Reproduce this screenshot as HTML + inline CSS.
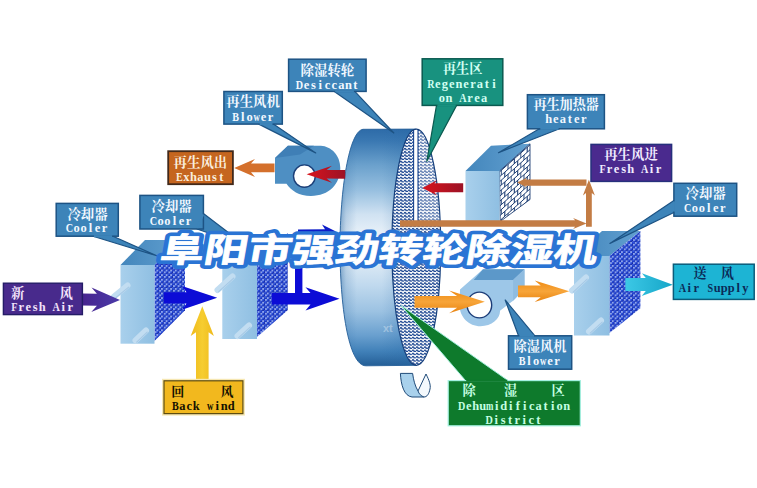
<!DOCTYPE html>
<html lang="zh"><head><meta charset="utf-8"><title>阜阳市强劲转轮除湿机</title>
<style>
html,body{margin:0;padding:0;background:#fff}
body{width:757px;height:488px;overflow:hidden;font-family:"Liberation Serif",serif}
svg{display:block}
text{font-family:"Liberation Serif",serif}
text.cj{font-family:"Liberation Serif","Noto Serif CJK SC",serif;font-weight:bold}
text.ct{font-family:"Liberation Sans","Noto Sans CJK SC",sans-serif;font-weight:bold}
</style></head><body>
<svg width="757" height="488" viewBox="0 0 757 488">
<defs>
<linearGradient id="gFront" x1="0" x2="1" y1="0" y2="0"><stop offset="0" stop-color="#a9d0ec"/><stop offset="1" stop-color="#8fbfe2"/></linearGradient>
<linearGradient id="gRimV" x1="0" x2="0" y1="0" y2="1"><stop offset="0" stop-color="#2d6ba8"/><stop offset=".05" stop-color="#3a78b2"/><stop offset=".15" stop-color="#6aa0cc"/><stop offset=".26" stop-color="#98c0e0"/><stop offset=".36" stop-color="#d0e2f2"/><stop offset=".45" stop-color="#eaf2f9"/><stop offset=".55" stop-color="#e0ecf6"/><stop offset=".66" stop-color="#c0d9ee"/><stop offset=".77" stop-color="#9cc2e2"/><stop offset=".87" stop-color="#6aa0cf"/><stop offset=".94" stop-color="#4080b8"/><stop offset="1" stop-color="#245e96"/></linearGradient>
<linearGradient id="gRimH" x1="0" x2="1" y1="0" y2="0"><stop offset="0" stop-color="#2c69a3" stop-opacity=".5"/><stop offset=".08" stop-color="#2c69a3" stop-opacity=".18"/><stop offset=".22" stop-color="#2c69a3" stop-opacity="0"/><stop offset=".55" stop-color="#2a6aa8" stop-opacity="0"/><stop offset="1" stop-color="#2a6aa8" stop-opacity=".36"/></linearGradient>
<linearGradient id="gTop" x1="0" x2="1"><stop offset="0" stop-color="#4386bc"/><stop offset="1" stop-color="#62a0d0"/></linearGradient>
<linearGradient id="gPurple" x1="0" x2="1"><stop offset="0" stop-color="#47258f"/><stop offset="1" stop-color="#4a3aa8"/></linearGradient>
<linearGradient id="gYellow" x1="0" x2="1"><stop offset="0" stop-color="#efba1c"/><stop offset=".5" stop-color="#f6cd30"/><stop offset="1" stop-color="#efba1c"/></linearGradient>
<linearGradient id="gOrange" x1="0" x2="0" y1="0" y2="1"><stop offset="0" stop-color="#ef8a12"/><stop offset=".5" stop-color="#f7a53a"/><stop offset="1" stop-color="#e8820e"/></linearGradient>
<linearGradient id="gRed" x1="0" x2="1"><stop offset="0" stop-color="#d8141c"/><stop offset="1" stop-color="#9c1226"/></linearGradient>
<linearGradient id="gCyan" x1="0" x2="1"><stop offset="0" stop-color="#3cc8e6"/><stop offset="1" stop-color="#16a6c8"/></linearGradient>
<radialGradient id="gDot" cx=".36" cy=".36" r=".7"><stop offset="0" stop-color="#3f6af0"/><stop offset=".45" stop-color="#1c3ccc"/><stop offset="1" stop-color="#0a1788"/></radialGradient><pattern id="pMesh" width="4.6" height="4.6" patternUnits="userSpaceOnUse"><rect width="4.6" height="4.6" fill="#8ea4ec"/><circle cx="1.15" cy="1.15" r="1.66" fill="url(#gDot)"/><circle cx="3.45" cy="3.45" r="1.66" fill="url(#gDot)"/></pattern>
<pattern id="pBrick" width="6.4" height="9.8" patternUnits="userSpaceOnUse" patternTransform="translate(500 171) skewY(-41.6)"><rect width="6.4" height="9.8" fill="#fff"/><path d="M0 .5H6.4M0 5.4H6.4M1.6 .5V5.4M4.8 5.4V10.3M4.8 0V.5" stroke="#1f3f74" stroke-width="1" fill="none"/></pattern>
<pattern id="pWave" width="4" height="3.2" patternUnits="userSpaceOnUse"><rect width="4" height="3.2" fill="#fff"/><path d="M0 2.2Q1 .2 2 2.2T4 2.2" stroke="#16428e" stroke-width="1.35" fill="none"/></pattern>

</defs>
<polygon points="120.5,265 145,240 185,240 154.5,265" fill="url(#gTop)"/>
<polygon points="154.5,265 185,236 185,310.3 154.5,341" fill="url(#pMesh)"/>
<rect x="120.5" y="265" width="34" height="78.7" fill="url(#gFront)"/>
<line x1="114" y1="296.5" x2="127.5" y2="285.5" stroke="#c2ddf1" stroke-width="6" stroke-linecap="round"/>
<line x1="115.2" y1="298.1" x2="128.7" y2="287.1" stroke="#a6c9e6" stroke-width="1.2" stroke-linecap="round"/>
<line x1="135.5" y1="340.5" x2="146" y2="330.5" stroke="#c2ddf1" stroke-width="6" stroke-linecap="round"/>
<line x1="136.7" y1="342.1" x2="147.2" y2="332.1" stroke="#a6c9e6" stroke-width="1.2" stroke-linecap="round"/>
<polygon points="222.3,262 248,238 287.7,238 257,262" fill="url(#gTop)"/>
<polygon points="257,262 287.7,233 287.7,310.3 257,337" fill="url(#pMesh)"/>
<rect x="222.3" y="262" width="34.7" height="77" fill="url(#gFront)"/>
<line x1="217.5" y1="290" x2="232.5" y2="276.5" stroke="#c2ddf1" stroke-width="6" stroke-linecap="round"/>
<line x1="218.7" y1="291.6" x2="233.7" y2="278.1" stroke="#a6c9e6" stroke-width="1.2" stroke-linecap="round"/>
<line x1="237.5" y1="336" x2="249" y2="325.5" stroke="#c2ddf1" stroke-width="6" stroke-linecap="round"/>
<line x1="238.7" y1="337.6" x2="250.2" y2="327.1" stroke="#a6c9e6" stroke-width="1.2" stroke-linecap="round"/>
<polygon points="574,256 602,231 640.4,231 609.5,256" fill="url(#gTop)"/>
<polygon points="609.5,256 640.4,231 640.4,308.3 609.5,333" fill="url(#pMesh)"/>
<rect x="574" y="256" width="35.5" height="79.5" fill="url(#gFront)"/>
<line x1="572" y1="290.5" x2="586" y2="277.5" stroke="#c2ddf1" stroke-width="6" stroke-linecap="round"/>
<line x1="573.2" y1="292.1" x2="587.2" y2="279.1" stroke="#a6c9e6" stroke-width="1.2" stroke-linecap="round"/>
<line x1="589" y1="331.5" x2="601" y2="320.5" stroke="#c2ddf1" stroke-width="6" stroke-linecap="round"/>
<line x1="590.2" y1="333.1" x2="602.2" y2="322.1" stroke="#a6c9e6" stroke-width="1.2" stroke-linecap="round"/>
<polygon points="465.5,171 491,145.7 530,143.8 499.6,171" fill="url(#gTop)"/>
<polygon points="499.6,171 530,143.8 530,199.5 500.2,221.5" fill="url(#pBrick)" stroke="#1f3f74" stroke-width="0.9"/>
<rect x="465.5" y="171" width="34.1" height="50" fill="url(#gFront)"/>
<path d="M416.3 129.1L363 129.3C349 131 340 190 340 247C340 304 348 365.8 366 365.8L416.3 365.3Z" fill="url(#gRimV)"/>
<path d="M416.3 129.1L363 129.3C349 131 340 190 340 247C340 304 348 365.8 366 365.8L416.3 365.3Z" fill="url(#gRimH)" stroke="#255f98" stroke-width=".9"/>
<path id="face" d="M416.3 129.1A24.4 118.1 0 1 1 416.3 365.29999999999995A24.4 118.1 0 1 1 416.3 129.1Z" fill="url(#pWave)"/>
<clipPath id="cFace"><path d="M416.3 129.1A24.4 118.1 0 1 1 416.3 365.29999999999995A24.4 118.1 0 1 1 416.3 129.1Z"/></clipPath>
<g clip-path="url(#cFace)"><rect x="418.8" y="125" width="24" height="100" fill="#fff" opacity=".28"/><rect x="413.6" y="125" width="4.4" height="98" fill="#fff" stroke="#16428e" stroke-width="1.1"/></g>
<path d="M416.3 129.1A24.4 118.1 0 1 1 416.3 365.29999999999995A24.4 118.1 0 1 1 416.3 129.1Z" fill="none" stroke="#17407c" stroke-width="1.2"/>
<text x="383" y="332" fill="#fff" opacity=".32" font-size="11" font-weight="bold" style="font-family:&quot;Liberation Sans&quot;,sans-serif">xt</text>
<path d="M400.4 373.4H412.6C413.5 380 415 386 418 391L424 397H412C404 396 401 385 400.4 373.4Z" fill="#a9d1ec" stroke="#1f4a78" stroke-width="1" stroke-linejoin="round"/>
<path d="M418 391L426 374C429 380 431 385 430 389C429 394 427 397 424 397C421 396 419 394 418 391Z" fill="#f4f9fd" stroke="#1f4a78" stroke-width="1" stroke-linejoin="round"/>
<path d="M275 157.9L287.9 145.8H320.9C331 146.5 340.3 155 340.3 168C340.3 184 329 195.9 311 195.9C299 195.9 291 190.5 286.5 183.7H275Z" fill="#4e8fc3"/>
<path d="M275 157.9L287.9 145.8H314L300 154.5Z" fill="#3f7fb6"/>
<ellipse cx="304.4" cy="176.1" rx="10.9" ry="11.2" fill="#fff" stroke="#1b3f78" stroke-width="1.4"/>
<path d="M460 289.5L483 269.2H524.5V289L513.1 300.7L500 310.7C500.5 318.5 492 326.3 480.5 326.3C469 326.3 459.5 317 459.5 305Z" fill="#9dc7e8"/>
<path d="M473.7 279.9L483 269.2H524.5L513.1 279.9Z" fill="#5c98c9"/>
<path d="M513.1 279.9L524.5 269.2V289L513.1 300.7Z" fill="#8fbce0"/>
<ellipse cx="479.4" cy="305" rx="12.3" ry="12.9" fill="#fff" stroke="#1b3c78" stroke-width="1.4"/>
<polygon points="82.5,293.6 96.9,293.7 91.5,287.5 120,299.9 91.3,311.9 96.9,305.7 82.5,305.6" fill="url(#gPurple)"/>
<polygon points="163.8,292.2 186.5,292.2 182,285.9 217.2,297.8 182,309.7 186.5,303.4 163.8,303.4" fill="#0c0cd6"/>
<polygon points="271.7,293 310.5,293 305.5,287.2 339.5,298.8 305.5,310.4 310.5,304.6 271.7,304.6" fill="#0c0cd6"/>
<rect x="295" y="236" width="7.4" height="63" fill="#0c0cd6"/>
<polygon points="298,229.4 325,229.3 322,224.5 336,231.4 322,238.5 325,233.7 298,233.8" fill="#0c1cc8"/>
<polygon points="196,381 196,332.2 190.7,336 202.3,306.3 213.9,336 208.6,332.2 208.6,381" fill="url(#gYellow)"/>
<polygon points="274.5,172.3 251,172.3 255,176.9 234.2,167.9 255,158.9 251,163.5 274.5,163.5" fill="#d4702c"/>
<polygon points="345.2,178.7 326.6,178.6 332,182.8 306.6,174.2 332,165.8 326.6,170 345.2,170.1" fill="url(#gRed)"/>
<polygon points="463.2,192.2 434.3,192.3 437.3,195.5 422.5,187.9 437.3,180.1 434.3,183.3 463.2,183.2" fill="url(#gRed)"/>
<polygon points="586.5,185.8 525.2,185.8 527.2,187.6 517.2,182.6 527.2,177.6 525.2,179.4 586.5,179.4" fill="#c37c44"/>
<polygon points="400,220.3 575.1,220.3 573.1,218.1 586.5,223.5 573.1,228.9 575.1,226.7 400,226.7" fill="#c37c44"/>
<polygon points="586,226.7 586,193.1 582.9,195.6 588.9,179.8 594.9,195.6 591.8,193.1 591.8,226.7" fill="#c37c44"/>
<polygon points="414.5,296 457.1,295.9 449.1,290.4 484.8,301.7 449.1,313.2 457.1,307.7 414.5,307.8" fill="url(#gOrange)"/>
<polygon points="518,285.5 540.7,285.4 534.7,280.5 569.2,291.2 534.7,302.1 540.7,297.2 518,297.3" fill="url(#gOrange)"/>
<polygon points="625.4,278 645.8,278.1 641.9,273.2 672.8,284.8 641.7,296 645.8,291.1 625.4,291" fill="url(#gCyan)"/>
<polygon points="334.3,91.4 393.8,133 354.8,91.4" fill="#3d84b9" stroke="#1d5384" stroke-width="1.2000000000000002" stroke-linejoin="round"/><rect x="288.6" y="59.2" width="77.5" height="32.2" fill="#3d84b9" stroke="#1d5384" stroke-width="1.5"/><line x1="335.2" y1="91.4" x2="353.9" y2="91.4" stroke="#3d84b9" stroke-width="2.1"/>
<text class="cj" x="300.6 314 327.4 340.8" y="74.9" fill="#f2f8ff" font-size="13.4">除湿转轮</text>
<text transform="scale(0.8 1)" x="374.2" y="88.6" fill="#f2f8ff" font-size="12.7" font-weight="bold" text-anchor="middle">D</text><text transform="scale(0.98 1)" x="312.7 319.8 326.9 334.1 341.2 348.4 355.5 362.7" y="88.6" fill="#f2f8ff" font-size="12.7" font-weight="bold" text-anchor="middle">esiccant</text>
<polygon points="436.5,105.4 426.8,161.3 456.6,105.4" fill="#18927f" stroke="#0b5a50" stroke-width="1.2000000000000002" stroke-linejoin="round"/><rect x="422.2" y="58.8" width="80.6" height="46.6" fill="#18927f" stroke="#0b5a50" stroke-width="1.5"/><line x1="437.4" y1="105.4" x2="455.7" y2="105.4" stroke="#18927f" stroke-width="2.1"/>
<text class="cj" x="442.9 456.1 469.3" y="73" fill="#d2fff2" font-size="13.2">再生区</text>
<text transform="scale(0.8 1)" x="538.6" y="87.6" fill="#d2fff2" font-size="12.7" font-weight="bold" text-anchor="middle">R</text><text transform="scale(0.98 1)" x="446.8 454 461.1 468.3 475.4 482.6 489.7 496.8 504" y="87.6" fill="#d2fff2" font-size="12.7" font-weight="bold" text-anchor="middle">egenerati</text>
<text transform="scale(0.98 1)" x="451 458.2 479.6 486.7 493.9" y="101.7" fill="#d2fff2" font-size="12.7" font-weight="bold" text-anchor="middle">onrea</text><text transform="scale(0.8 1)" x="578.8" y="101.7" fill="#d2fff2" font-size="12.7" font-weight="bold" text-anchor="middle">A</text>
<polygon points="258.8,124.1 315.7,152.9 273.4,124.1" fill="#3d84b9" stroke="#1d5384" stroke-width="1.2000000000000002" stroke-linejoin="round"/><rect x="223.9" y="91.5" width="58.4" height="32.6" fill="#3d84b9" stroke="#1d5384" stroke-width="1.5"/><line x1="259.7" y1="124.1" x2="272.5" y2="124.1" stroke="#3d84b9" stroke-width="2.1"/>
<text class="cj" x="226.3 239.7 253.1 266.5" y="105.9" fill="#f2f8ff" font-size="13.4">再生风机</text>
<text transform="scale(0.8 1)" x="294.5" y="120.6" fill="#f2f8ff" font-size="12.7" font-weight="bold" text-anchor="middle">B</text><text transform="scale(0.98 1)" x="247.6 254.7 269 276.1" y="120.6" fill="#f2f8ff" font-size="12.7" font-weight="bold" text-anchor="middle">loer</text><text transform="scale(0.7 1)" x="366.6" y="120.6" fill="#f2f8ff" font-size="12.7" font-weight="bold" text-anchor="middle">w</text>
<polygon points="539.4,128.8 498.5,152.7 559.5,128.8" fill="#3d84b9" stroke="#1d5384" stroke-width="1.2000000000000002" stroke-linejoin="round"/><rect x="527.4" y="94.7" width="77" height="34.1" fill="#3d84b9" stroke="#1d5384" stroke-width="1.5"/><line x1="540.3" y1="128.8" x2="558.6" y2="128.8" stroke="#3d84b9" stroke-width="2.1"/>
<text class="cj" x="533.4 546.4 559.4 572.4 585.4" y="108.8" fill="#f2f8ff" font-size="13.2">再生加热器</text>
<text transform="scale(0.98 1)" x="560 567.1 574.3 581.4 588.6 595.7" y="123" fill="#f2f8ff" font-size="12.7" font-weight="bold" text-anchor="middle">heater</text>
<rect x="168.2" y="151.2" width="64.7" height="33" fill="#c5651f" stroke="#42291a" stroke-width="1.8"/>
<text class="cj" x="173.6 187 200.4 213.8" y="166.7" fill="#faeedd" font-size="13.4">再生风出</text>
<text transform="scale(0.8 1)" x="224.2" y="180.6" fill="#faeedd" font-size="12.7" font-weight="bold" text-anchor="middle">E</text><text transform="scale(0.98 1)" x="190.2 197.3 204.5 211.6 218.8 225.9" y="180.6" fill="#faeedd" font-size="12.7" font-weight="bold" text-anchor="middle">xhaust</text>
<rect x="591" y="144.4" width="80.6" height="37" fill="#4a2a8e" stroke="#26307c" stroke-width="1.5"/>
<text class="cj" x="604.2 617.6 631 644.4" y="159.4" fill="#f1ecff" font-size="13.4">再生风进</text>
<text transform="scale(0.8 1)" x="753.2 805.8" y="172.7" fill="#f1ecff" font-size="12.7" font-weight="bold" text-anchor="middle">FA</text><text transform="scale(0.98 1)" x="622 629.2 636.3 643.5 664.9 672" y="172.7" fill="#f1ecff" font-size="12.7" font-weight="bold" text-anchor="middle">reshir</text>
<polygon points="93,236.2 156.8,255.8 113,236.2" fill="#3d84b9" stroke="#1d5384" stroke-width="1.2000000000000002" stroke-linejoin="round"/><rect x="56.2" y="203.4" width="62.1" height="32.8" fill="#3d84b9" stroke="#1d5384" stroke-width="1.5"/><line x1="93.9" y1="236.2" x2="112.1" y2="236.2" stroke="#3d84b9" stroke-width="2.1"/>
<text class="cj" x="67.4 80.8 94.2" y="218.7" fill="#f2f8ff" font-size="13.4">冷却器</text>
<text transform="scale(0.8 1)" x="86.9" y="232.4" fill="#f2f8ff" font-size="12.7" font-weight="bold" text-anchor="middle">C</text><text transform="scale(0.98 1)" x="78.1 85.2 92.3 99.5 106.6" y="232.4" fill="#f2f8ff" font-size="12.7" font-weight="bold" text-anchor="middle">ooler</text>
<polygon points="203.4,213.5 246,246 197,229" fill="#3d84b9" stroke="#1d5384" stroke-width="1.2000000000000002" stroke-linejoin="round"/><rect x="139.9" y="195.4" width="63.5" height="33.6" fill="#3d84b9" stroke="#1d5384" stroke-width="1.5"/><line x1="203.1" y1="214.3" x2="197.3" y2="228.2" stroke="#3d84b9" stroke-width="2.1"/>
<text class="cj" x="151.5 164.9 178.3" y="210.7" fill="#f2f8ff" font-size="13.4">冷却器</text>
<text transform="scale(0.8 1)" x="191.9" y="224.7" fill="#f2f8ff" font-size="12.7" font-weight="bold" text-anchor="middle">C</text><text transform="scale(0.98 1)" x="163.8 170.9 178.1 185.2 192.3" y="224.7" fill="#f2f8ff" font-size="12.7" font-weight="bold" text-anchor="middle">ooler</text>
<polygon points="673.9,200.5 609.9,243.4 673.9,212.5" fill="#3d84b9" stroke="#1d5384" stroke-width="1.2000000000000002" stroke-linejoin="round"/><rect x="673.9" y="183.3" width="62.8" height="32.9" fill="#3d84b9" stroke="#1d5384" stroke-width="1.5"/><line x1="673.9" y1="201.4" x2="673.9" y2="211.6" stroke="#3d84b9" stroke-width="2.1"/>
<text class="cj" x="685.5 698.9 712.3" y="197.9" fill="#f2f8ff" font-size="13.4">冷却器</text>
<text transform="scale(0.8 1)" x="859.7" y="211.6" fill="#f2f8ff" font-size="12.7" font-weight="bold" text-anchor="middle">C</text><text transform="scale(0.98 1)" x="709 716.1 723.3 730.4 737.6" y="211.6" fill="#f2f8ff" font-size="12.7" font-weight="bold" text-anchor="middle">ooler</text>
<rect x="3.4" y="283.2" width="79" height="31.4" fill="#482a8c" stroke="#241c66" stroke-width="1.4"/>
<text class="cj" x="10.9 59.6" y="297.7" fill="#f3e4fb" font-size="13.4">新风</text>
<text transform="scale(0.8 1)" x="17.8 70.2" y="311.4" fill="#f3e4fb" font-size="12.7" font-weight="bold" text-anchor="middle">FA</text><text transform="scale(0.98 1)" x="21.6 28.8 35.9 43.1 64.5 71.6" y="311.4" fill="#f3e4fb" font-size="12.7" font-weight="bold" text-anchor="middle">reshir</text>
<rect x="163" y="379.8" width="80.9" height="34.8" fill="none" stroke="#f6e7b2" stroke-width="2"/><rect x="164" y="380.8" width="78.9" height="32.8" fill="#f2b81e" stroke="#5e4d10" stroke-width="1.2"/>
<text class="cj" x="171.3 220.5" y="395.9" fill="#141000" font-size="13">回风</text>
<text transform="scale(0.8 1)" x="219.1" y="409.6" fill="#141000" font-size="12.7" font-weight="bold" text-anchor="middle">B</text><text transform="scale(0.98 1)" x="186 193.2 200.3 221.7 228.9 236" y="409.6" fill="#141000" font-size="12.7" font-weight="bold" text-anchor="middle">ackind</text><text transform="scale(0.7 1)" x="300.4" y="409.6" fill="#141000" font-size="12.7" font-weight="bold" text-anchor="middle">w</text>
<polygon points="465.5,380.6 401,305.5 508,380.6" fill="#0e7a2c" stroke="#a4f0e0" stroke-width="0.96" stroke-linejoin="round"/><rect x="448.2" y="380.6" width="132.1" height="45.2" fill="#0e7a2c" stroke="#a4f0e0" stroke-width="1.2"/><line x1="466.2" y1="380.6" x2="507.3" y2="380.6" stroke="#0e7a2c" stroke-width="1.7999999999999998"/>
<text class="cj" x="462.4 504 551.4" y="395.3" fill="#c4ffe2" font-size="13.2">除湿区</text>
<text transform="scale(0.8 1)" x="577.1" y="409.7" fill="#c4ffe2" font-size="12.7" font-weight="bold" text-anchor="middle">D</text><text transform="scale(0.98 1)" x="478.3 485.4 492.6 506.8 514 521.1 528.3 535.4 542.6 549.7 556.8 564 571.1 578.3" y="409.7" fill="#c4ffe2" font-size="12.7" font-weight="bold" text-anchor="middle">ehuidification</text><text transform="scale(0.7 1)" x="699.6" y="409.7" fill="#c4ffe2" font-size="12.7" font-weight="bold" text-anchor="middle">m</text>
<text transform="scale(0.8 1)" x="611.5" y="423.6" fill="#c4ffe2" font-size="12.7" font-weight="bold" text-anchor="middle">D</text><text transform="scale(0.98 1)" x="506.3 513.5 520.6 527.8 534.9 542 549.2" y="423.6" fill="#c4ffe2" font-size="12.7" font-weight="bold" text-anchor="middle">istrict</text>
<polygon points="518.5,335.8 505.2,300 534.9,335.8" fill="#3d84b9" stroke="#1d5384" stroke-width="1.2000000000000002" stroke-linejoin="round"/><rect x="508.5" y="335.8" width="63.2" height="33.4" fill="#3d84b9" stroke="#1d5384" stroke-width="1.5"/><line x1="519.4" y1="335.8" x2="534" y2="335.8" stroke="#3d84b9" stroke-width="2.1"/>
<text class="cj" x="513.6 526.8 540 553.2" y="351.4" fill="#f2f8ff" font-size="13.2">除湿风机</text>
<text transform="scale(0.8 1)" x="652.6" y="365.3" fill="#f2f8ff" font-size="12.7" font-weight="bold" text-anchor="middle">B</text><text transform="scale(0.98 1)" x="539.9 547 561.3 568.5" y="365.3" fill="#f2f8ff" font-size="12.7" font-weight="bold" text-anchor="middle">loer</text><text transform="scale(0.7 1)" x="775.9" y="365.3" fill="#f2f8ff" font-size="12.7" font-weight="bold" text-anchor="middle">w</text>
<rect x="673.4" y="264.2" width="80.8" height="35.2" fill="#1db4d4" stroke="#0b5c7a" stroke-width="1.5"/>
<text class="cj" x="693.6 720.7" y="277.8" fill="#0b2a58" font-size="13.2">送风</text>
<text transform="scale(0.8 1)" x="852.9 887.9" y="291.9" fill="#0b2a58" font-size="12.7" font-weight="bold" text-anchor="middle">AS</text><text transform="scale(0.98 1)" x="703.4 710.5 731.9 739.1 746.2 753.4 760.5" y="291.9" fill="#0b2a58" font-size="12.7" font-weight="bold" text-anchor="middle">irupply</text>
<g id="title" transform="translate(158.8 261.9) skewX(-10)"><g transform="scale(1.3065 1)"><text class="ct" x="0 33.45 66.9 100.34 133.79 167.24 200.69 234.14 267.58 301.03" y="0" font-size="33.6" fill="#2a74d4" stroke="#2a74d4" stroke-width="8" stroke-linejoin="round">阜阳市强劲转轮除湿机</text><text class="ct" x="0 33.45 66.9 100.34 133.79 167.24 200.69 234.14 267.58 301.03" y="0" font-size="33.6" fill="#fff" stroke="#fff" stroke-width="0.7" stroke-linejoin="round">阜阳市强劲转轮除湿机</text></g></g>
</svg>
</body></html>
